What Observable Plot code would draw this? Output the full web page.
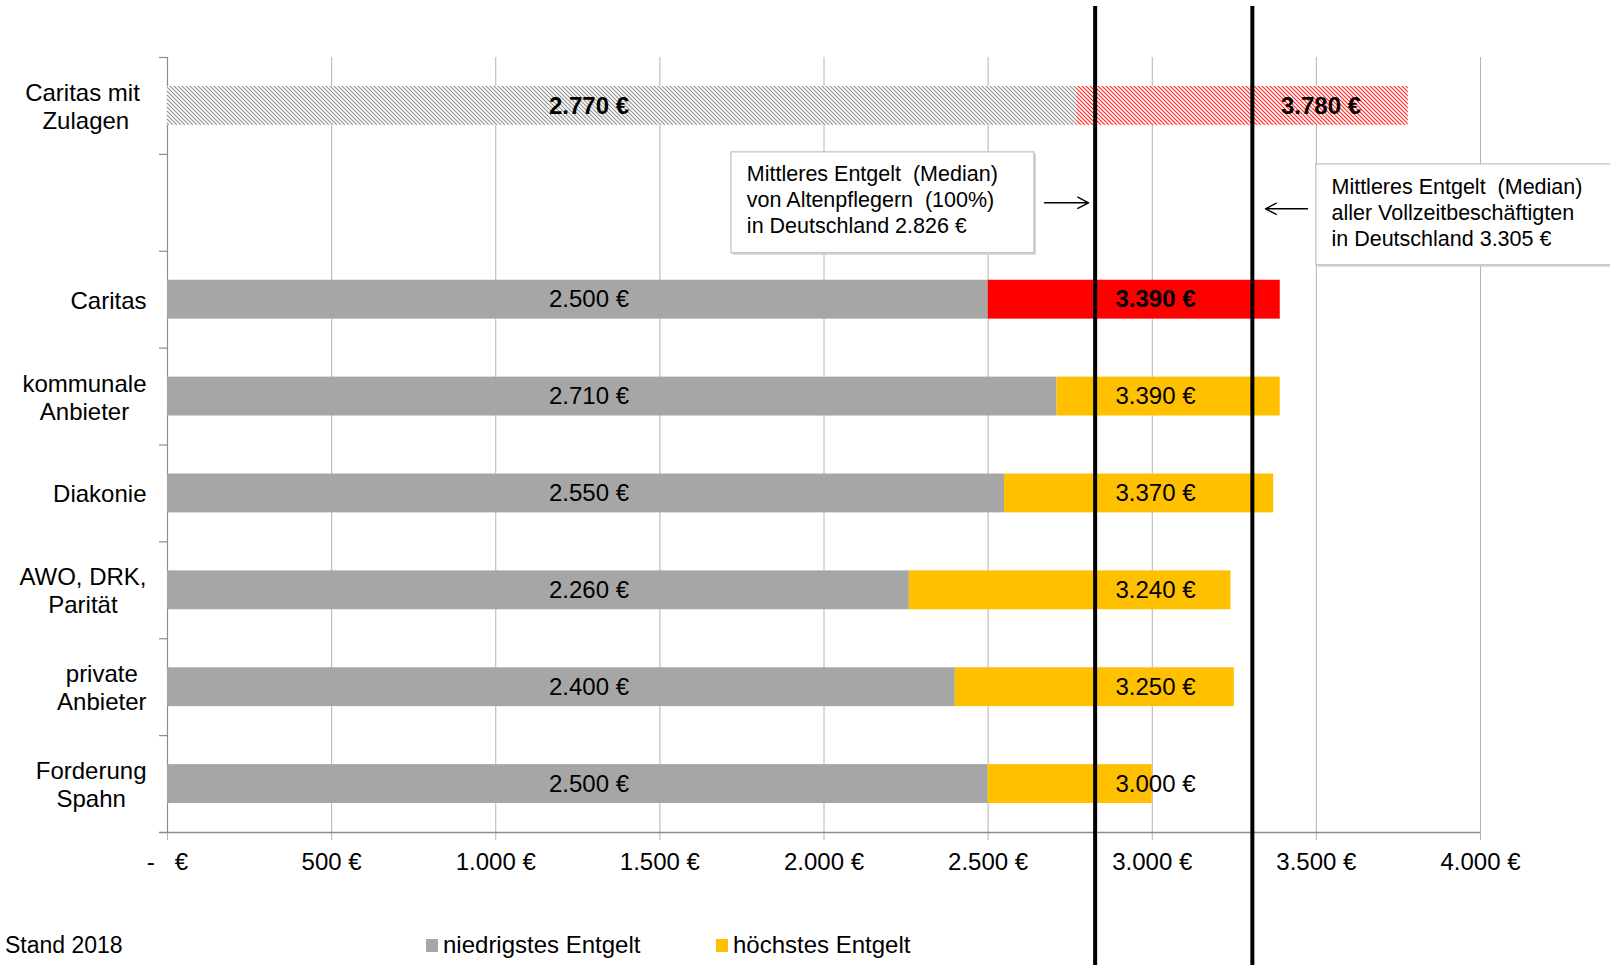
<!DOCTYPE html>
<html><head><meta charset="utf-8">
<script src="https://cdn.jsdelivr.net/npm/d3@7"></script>
<script src="https://cdn.jsdelivr.net/npm/@observablehq/plot@0.6"></script>
<style>
html,body{margin:0;padding:0;background:#fff;}
#wrap{position:relative;width:1610px;height:965px;font-family:"Liberation Sans",Arial,sans-serif;color:#000;}
#wrap svg{position:absolute;left:0;top:0;overflow:visible;}
svg text{white-space:pre;}
.ov{position:absolute;font-size:24px;line-height:24px;white-space:nowrap;}
.sw{position:absolute;width:12px;height:13px;}
</style></head><body><div id="wrap"></div>
<script>
// ---- data ----
const categories = ["Caritas mit Zulagen", "gap", "Caritas", "kommunale Anbieter", "Diakonie", "AWO, DRK, Parität", "private Anbieter", "Forderung Spahn"];
const categoryLabels = ["Caritas mit \nZulagen", "", "Caritas", "kommunale\nAnbieter", "Diakonie", "AWO, DRK,\nParität", "private\nAnbieter", "Forderung\nSpahn"];
const groups = ["Caritas mit Zulagen", "Caritas", "kommunale Anbieter", "Diakonie", "AWO, DRK, Parität", "private Anbieter", "Forderung Spahn"];
const lowest  = [2770, 2500, 2710, 2550, 2260, 2400, 2500];
const highest = [3780, 3390, 3390, 3370, 3240, 3250, 3000];
const xTicks = [0, 500, 1000, 1500, 2000, 2500, 3000, 3500, 4000];
const medianAltenpflege = 2826;
const medianVollzeit = 3305;
const note1 = "Mittleres Entgelt  (Median)\nvon Altenpflegern  (100%)\nin Deutschland 2.826 €";
const note2 = "Mittleres Entgelt  (Median)\naller Vollzeitbeschäftigten\nin Deutschland 3.305 €";
const legendLabels = ["niedrigstes Entgelt", "höchstes Entgelt"];
const caption = "Stand 2018";

// ---- layout ----
const W = 1610, H = 965, mL = 167, mR = 130, mT = 57, mB = 133;
const bw = (H - mT - mB) / categories.length;
const barInset = 29;
const gridColor = "#B4B4B4", axisColor = "#8C8C8C";
const GRAY = "#A6A6A6", YELLOW = "#FFC000", RED = "#FF0000";

const rows = groups.map((g, i) => ({group: g, low: lowest[i], high: highest[i], idx: i}));
const zul = rows.filter(d => d.idx === 0);
const car = rows.filter(d => d.idx === 1);
const rest = rows.filter(d => d.idx > 1);
const labelMap = new Map(categories.map((c, i) => [c, categoryLabels[i]]));

const de = d3.formatLocale({decimal: ",", thousands: ".", grouping: [3], currency: ["", " €"]});
const num = de.format(",");
const eur = v => num(v) + " €";
const tickFmt = v => v === 0 ? "-   €" : eur(v);

const lowLabelAt = 1284;
const highLabelAt = d => d.idx === 0 ? 3514 : 3010;
const font = '"Liberation Sans", Arial, sans-serif';

const chart = Plot.plot({
  width: W, height: H, marginLeft: mL, marginRight: mR, marginTop: mT, marginBottom: mB,
  style: {fontFamily: font, fontSize: "24px", color: "#000", background: "transparent", overflow: "visible"},
  x: {domain: [0, 4000], label: null},
  y: {domain: categories, padding: 0, round: false, label: null},
  marks: [
    Plot.gridX({ticks: xTicks, stroke: gridColor, strokeOpacity: 1, strokeWidth: 1}),
    Plot.axisX({ticks: xTicks, tickSize: 8, tickPadding: 12, tickFormat: tickFmt, stroke: gridColor, fontSize: 24}),
    Plot.ruleX([0], {stroke: axisColor, strokeWidth: 1.2}),
    Plot.ruleY(categories, {y: d => d, dy: -bw / 2, insetLeft: -8, insetRight: W - mL - mR, stroke: axisColor, strokeWidth: 1.2}),
    Plot.ruleY([categories[categories.length - 1]], {y: d => d, dy: bw / 2, insetLeft: -8, stroke: axisColor, strokeWidth: 1.6}),
    Plot.axisY({tickSize: 0, tickPadding: 21, tickFormat: d => labelMap.get(d), fontSize: 24, lineHeight: 1.17}),

    // bars
    Plot.barX(zul, {x1: 0, x2: "low", y: "group", fill: "url(#hatchGray)", insetTop: barInset, insetBottom: barInset}),
    Plot.barX(zul, {x1: "low", x2: "high", y: "group", fill: "url(#hatchRed)", insetTop: barInset, insetBottom: barInset}),
    Plot.barX(car.concat(rest), {x1: 0, x2: "low", y: "group", fill: GRAY, insetTop: barInset, insetBottom: barInset}),
    Plot.barX(car, {x1: "low", x2: "high", y: "group", fill: RED, insetTop: barInset, insetBottom: barInset}),
    Plot.barX(rest, {x1: "low", x2: "high", y: "group", fill: YELLOW, insetTop: barInset, insetBottom: barInset}),

    // annotation boxes
    Plot.barX([note1], {x1: 1718, x2: 2641, y: () => "gap", insetTop: -2, insetBottom: -2, fill: "#D4D4D4", dx: 2, dy: 2}),
    Plot.barX([note1], {x1: 1718, x2: 2641, y: () => "gap", insetTop: -2, insetBottom: -2, fill: "#fff", stroke: "#BFBFBF", strokeWidth: 1.2}),
    Plot.barX([note2], {x1: 3500, x2: 4400, y: () => "gap", insetTop: 10, insetBottom: -14, fill: "#D4D4D4", dx: 2, dy: 2}),
    Plot.barX([note2], {x1: 3500, x2: 4400, y: () => "gap", insetTop: 10, insetBottom: -14, fill: "#fff", stroke: "#BFBFBF", strokeWidth: 1.2}),
    Plot.text([note1], {x: 1765, y: () => "gap", text: d => d, textAnchor: "start", fontSize: 21.5, lineHeight: 1.2, dy: -4, fill: "#000"}),
    Plot.text([note2], {x: 3546, y: () => "gap", text: d => d, textAnchor: "start", fontSize: 21.5, lineHeight: 1.2, dy: 9, fill: "#000"}),
    Plot.arrow([note1], {x1: 2672, x2: 2806, y1: () => "gap", y2: () => "gap", stroke: "#000", strokeWidth: 1.4, headLength: 13, headAngle: 55, bend: 0}),
    Plot.arrow([note2], {x1: 3473, x2: 3345, y1: () => "gap", y2: () => "gap", dy: 6, stroke: "#000", strokeWidth: 1.4, headLength: 13, headAngle: 55, bend: 0}),

    // median lines
    Plot.ruleX([medianAltenpflege, medianVollzeit], {stroke: "#000", strokeWidth: 4, insetTop: -(mT - 6), insetBottom: -mB}),

    // value labels
    Plot.text(zul, {x: () => lowLabelAt, y: "group", text: d => eur(d.low), fontWeight: "bold", fontSize: 24, fill: "#000"}),
    Plot.text(zul, {x: highLabelAt, y: "group", text: d => eur(d.high), fontWeight: "bold", fontSize: 24, fill: "#000"}),
    Plot.text(car.concat(rest), {x: () => lowLabelAt, y: "group", text: d => eur(d.low), fontSize: 24, fill: "#000"}),
    Plot.text(car, {x: highLabelAt, y: "group", text: d => eur(d.high), fontWeight: "bold", fontSize: 24, fill: "#000"}),
    Plot.text(rest, {x: highLabelAt, y: "group", text: d => eur(d.high), fontSize: 24, fill: "#000"})
  ]
});

// hatch patterns
const defs = d3.select(chart).insert("defs", ":first-child");
function hatch(id, color) {
  const p = defs.append("pattern").attr("id", id).attr("patternUnits", "userSpaceOnUse").attr("width", 4).attr("height", 4);
  p.append("rect").attr("width", 4).attr("height", 4).attr("fill", "#fff");
  p.append("path").attr("d", "M-1,-1L5,5M-1,3L1,5M3,-1L5,1").attr("stroke", color).attr("stroke-width", 1.2);
}
hatch("hatchGray", "#959595");
hatch("hatchRed", "#FF2828");

const wrap = document.getElementById("wrap");
wrap.appendChild(chart);

// center the lines of wrapped category labels within their right-aligned block
chart.querySelectorAll('g[aria-label="y-axis tick label"] text').forEach(t => {
  const spans = t.querySelectorAll("tspan");
  if (spans.length < 2) return;
  const w = Math.max(...[...spans].map(s => s.getComputedTextLength()));
  t.setAttribute("text-anchor", "middle");
  spans.forEach(s => s.setAttribute("x", -w / 2));
});

// caption and legend
function add(html, cls, style) {
  const e = document.createElement("div");
  e.className = cls; e.textContent = html || ""; Object.assign(e.style, style); wrap.appendChild(e);
}
add(caption, "ov", {left: "5px", top: "933px", fontSize: "23px"});
add("", "sw", {left: "426px", top: "939px", background: GRAY});
add(legendLabels[0], "ov", {left: "443px", top: "933px"});
add("", "sw", {left: "716px", top: "939px", background: YELLOW});
add(legendLabels[1], "ov", {left: "733px", top: "933px"});
</script>
</body></html>
